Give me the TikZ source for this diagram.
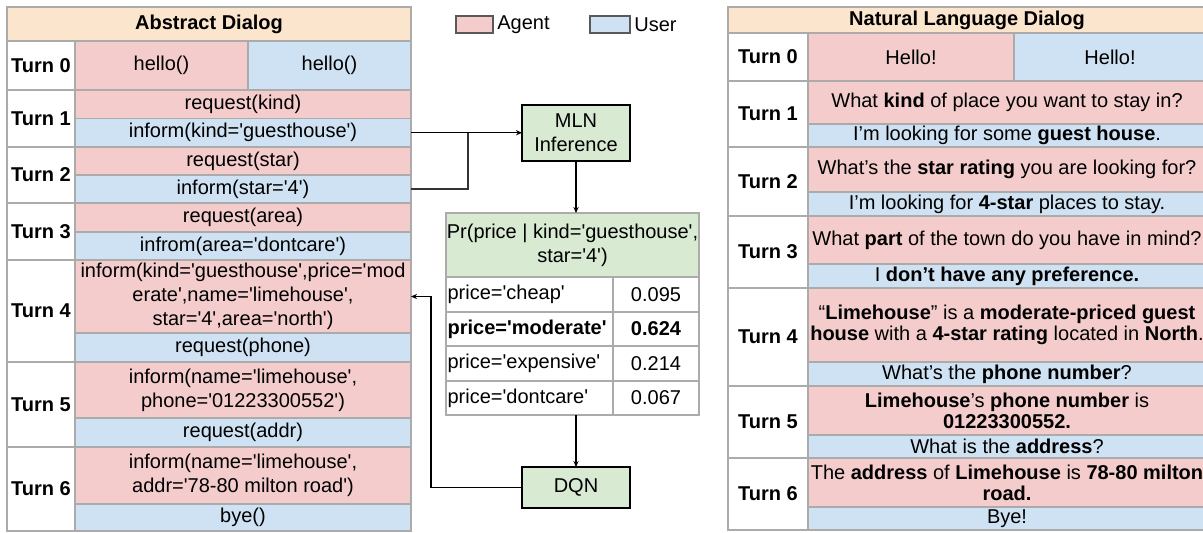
\documentclass[tikz,border=0pt]{standalone}
\usepackage{fontspec}
\newfontfamily\arial{Liberation Sans}
\usetikzlibrary{fit,arrows.meta}
\definecolor{peach}{HTML}{FCE5CD}
\definecolor{agentc}{HTML}{F4CCCC}
\definecolor{userc}{HTML}{CFE2F3}
\definecolor{mlng}{HTML}{D9EAD3}
\definecolor{cgray}{HTML}{ABABAB}
\tikzset{
  cellst/.style={draw=cgray, line width=0.6pt, inner sep=0pt, outer sep=0pt, rectangle},
  txt/.style={inner sep=0pt, align=center, text=black, font=\arial\fontsize{10}{12}\selectfont},
  rtxt/.style={inner sep=0pt, align=center, text=black, font=\arial\fontsize{10}{10.5}\selectfont},
  boxst/.style={draw=black, line width=0.6pt, fill=mlng, inner sep=0pt, outer sep=0pt, rectangle},
  swatch/.style={draw=black!65, line width=0.6pt, inner sep=0pt, rectangle},
  arr/.style={draw=black, line width=0.6pt, -{Stealth[length=3pt,width=2.6pt]}},
  ln/.style={draw=black!80, line width=0.7pt}
}
\newcommand\cellat[7]{\node[cellst,#6,fit={(#2,#3) (#4,#5)}] (#1) {}; \node[txt] (#1t) at (#1.center) {#7};}
\newcommand\rcell[7]{\node[cellst,#6,fit={(#2,#3) (#4,#5)}] (#1) {}; \node[rtxt] (#1t) at (#1.center) {#7};}
\begin{document}
\begin{tikzpicture}[x=0.5pt,y=-0.5pt]
\useasboundingbox (0,0) rectangle (1203,532);
% ---------- Left table: Abstract Dialog ----------
\cellat{lh}{7}{7}{411}{41}{fill=peach}{\textbf{Abstract Dialog}}
\cellat{l0}{7}{41}{75}{90}{fill=white}{\textbf{Turn 0}}
\cellat{l0a}{75}{41}{248}{90}{fill=agentc}{hello()}
\cellat{l0u}{248}{41}{411}{90}{fill=userc}{hello()}
\cellat{l1}{7}{90}{75}{147}{fill=white}{\textbf{Turn 1}}
\cellat{l1a}{75}{90}{411}{118.5}{fill=agentc}{request(kind)}
\cellat{l1u}{75}{118.5}{411}{147}{fill=userc}{inform(kind='guesthouse')}
\cellat{l2}{7}{147}{75}{203}{fill=white}{\textbf{Turn 2}}
\cellat{l2a}{75}{147}{411}{175}{fill=agentc}{request(star)}
\cellat{l2u}{75}{175}{411}{203}{fill=userc}{inform(star='4')}
\cellat{l3}{7}{203}{75}{260}{fill=white}{\textbf{Turn 3}}
\cellat{l3a}{75}{203}{411}{232}{fill=agentc}{request(area)}
\cellat{l3u}{75}{232}{411}{260}{fill=userc}{infrom(area='dontcare')}
\cellat{l4}{7}{260}{75}{362}{fill=white}{\textbf{Turn 4}}
\cellat{l4a}{75}{260}{411}{333}{fill=agentc}{inform(kind='guesthouse',price='mod\\erate',name='limehouse',\\star='4',area='north')}
\cellat{l4u}{75}{333}{411}{362}{fill=userc}{request(phone)}
\cellat{l5}{7}{362}{75}{447}{fill=white}{\textbf{Turn 5}}
\cellat{l5a}{75}{362}{411}{418}{fill=agentc}{inform(name='limehouse',\\phone='01223300552')}
\cellat{l5u}{75}{418}{411}{447}{fill=userc}{request(addr)}
\cellat{l6}{7}{447}{75}{531}{fill=white}{\textbf{Turn 6}}
\cellat{l6a}{75}{447}{411}{504}{fill=agentc}{inform(name='limehouse',\\addr='78-80 milton road')}
\cellat{l6u}{75}{504}{411}{531}{fill=userc}{bye()}
% ---------- Legend ----------
\node[swatch, fill=agentc, fit={(456,16) (493,33)}] (sa) {};
\node[txt, anchor=west] (sat) at (497,24.5) {Agent};
\node[swatch, fill=userc, fit={(590,16) (630,33)}] (su) {};
\node[txt, anchor=west] (sut) at (634,24.5) {User};
% ---------- Middle ----------
\node[boxst, fit={(522,105) (630,161)}] (mln) {};
\node[txt] (mlnt) at (mln.center) {MLN\\Inference};
\cellat{prh}{446}{213}{699}{277}{fill=mlng}{Pr(price | kind='guesthouse',\\star='4')}
\node[cellst, fill=white, fit={(446,277) (613,312)}] (p1) {};
\node[cellst, fill=white, fit={(613,277) (699,312)}] (q1) {};
\node[cellst, fill=white, fit={(446,312) (613,346)}] (p2) {};
\node[cellst, fill=white, fit={(613,312) (699,346)}] (q2) {};
\node[cellst, fill=white, fit={(446,346) (613,381)}] (p3) {};
\node[cellst, fill=white, fit={(613,346) (699,381)}] (q3) {};
\node[cellst, fill=white, fit={(446,381) (613,415)}] (p4) {};
\node[cellst, fill=white, fit={(613,381) (699,415)}] (q4) {};
\node[txt, anchor=west] (p1t) at ([xshift=0.6pt]p1.west) {price='cheap'};
\node[txt, anchor=west] (p2t) at ([xshift=0.6pt]p2.west) {\textbf{price='moderate'}};
\node[txt, anchor=west] (p3t) at ([xshift=0.6pt]p3.west) {price='expensive'};
\node[txt, anchor=west] (p4t) at ([xshift=0.6pt]p4.west) {price='dontcare'};
\node[txt] (q1t) at (q1.center) {0.095};
\node[txt] (q2t) at (q2.center) {\textbf{0.624}};
\node[txt] (q3t) at (q3.center) {0.214};
\node[txt] (q4t) at (q4.center) {0.067};
\node[boxst, fit={(522,467) (630,508)}] (dqn) {};
\node[txt] (dqnt) at (dqn.center) {DQN};
% connectors
\coordinate (junc) at (468,132.75);
\coordinate (back) at (431,296.5);
\draw[ln] (l2u.east) -| (junc);
\draw[arr] (l1u.east) -- (l1u.east -| mln.west);
\draw[arr] (mln.south) -- (mln.south |- prh.north);
\draw[arr] (mln.south |- p4.south) -- (dqn.north);
\draw[arr] (dqn.west) -| (back) -- (l4a.east);
% ---------- Right table: Natural Language Dialog ----------
\rcell{rh}{728}{7}{1206}{33}{fill=peach}{\textbf{Natural Language Dialog}}
\rcell{r0}{728}{33}{808}{81}{fill=white}{\textbf{Turn 0}}
\rcell{r0a}{808}{33}{1014}{81}{fill=agentc}{Hello!}
\rcell{r0u}{1014}{33}{1206}{81}{fill=userc}{Hello!}
\rcell{r1}{728}{81}{808}{147}{fill=white}{\textbf{Turn 1}}
\rcell{r1a}{808}{81}{1206}{124}{fill=agentc}{What \textbf{kind} of place you want to stay in?}
\rcell{r1u}{808}{124}{1206}{147}{fill=userc}{I’m looking for some \textbf{guest house}.}
\rcell{r2}{728}{147}{808}{216}{fill=white}{\textbf{Turn 2}}
\rcell{r2a}{808}{147}{1206}{192}{fill=agentc}{What’s the \textbf{star rating} you are looking for?}
\rcell{r2u}{808}{192}{1206}{216}{fill=userc}{I’m looking for \textbf{4-star} places to stay.}
\rcell{r3}{728}{216}{808}{288}{fill=white}{\textbf{Turn 3}}
\rcell{r3a}{808}{216}{1206}{264}{fill=agentc}{What \textbf{part} of the town do you have in mind?}
\rcell{r3u}{808}{264}{1206}{288}{fill=userc}{I \textbf{don’t have any preference.}}
\rcell{r4}{728}{288}{808}{386}{fill=white}{\textbf{Turn 4}}
\rcell{r4a}{808}{288}{1206}{362}{fill=agentc}{“\textbf{Limehouse}” is a \textbf{moderate-priced guest}\\\textbf{house} with a \textbf{4-star rating} located in \textbf{North}.}
\rcell{r4u}{808}{362}{1206}{386}{fill=userc}{What’s the \textbf{phone number}?}
\rcell{r5}{728}{386}{808}{458}{fill=white}{\textbf{Turn 5}}
\rcell{r5a}{808}{386}{1206}{435}{fill=agentc}{\textbf{Limehouse}’s \textbf{phone number} is\\\textbf{01223300552.}}
\rcell{r5u}{808}{435}{1206}{458}{fill=userc}{What is the \textbf{address}?}
\rcell{r6}{728}{458}{808}{530}{fill=white}{\textbf{Turn 6}}
\rcell{r6a}{808}{458}{1206}{507}{fill=agentc}{The \textbf{address} of \textbf{Limehouse} is \textbf{78-80 milton}\\\textbf{road.}}
\rcell{r6u}{808}{507}{1206}{530}{fill=userc}{Bye!}
\end{tikzpicture}
\end{document}
